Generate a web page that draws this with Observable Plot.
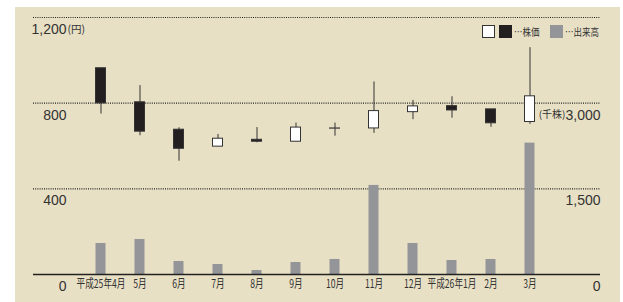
<!DOCTYPE html>
<html><head><meta charset="utf-8">
<script src="https://cdn.jsdelivr.net/npm/d3@7"></script>
<script src="https://cdn.jsdelivr.net/npm/@observablehq/plot@0.6"></script>
<style>
html,body{margin:0;padding:0;background:#fff;}
#wrap{position:relative;width:623px;height:302px;overflow:hidden;font-family:"Liberation Sans","Noto Sans CJK JP",sans-serif;}
#panel{position:absolute;left:15px;top:7px;width:605px;height:295px;background:#e8e0c5;}
#chart{position:absolute;left:0;top:0;}
.lg{position:absolute;top:25px;height:13px;}
.sq{width:13px;height:13px;box-sizing:border-box;}
.lt{position:absolute;top:24px;font-family:"Noto Sans CJK JP",sans-serif;font-size:10px;color:#333;line-height:15px;white-space:nowrap;transform:scaleX(0.85);transform-origin:left center;}
</style></head>
<body><div id="wrap"><div id="panel"></div><div id="chart"></div>
<div class="lg sq" style="left:482px;background:#fff;border:1px solid #333;"></div>
<div class="lg sq" style="left:499px;background:#231f20;"></div>
<div class="lt" style="left:514px;">…株価</div>
<div class="lg sq" style="left:550px;background:#939598;"></div>
<div class="lt" style="left:565px;">…出来高</div>
</div>
<script>
const months = ["平成25年4月","5月","6月","7月","8月","9月","10月","11月","12月","平成26年1月","2月","3月"];
const open  = [963, 804, 676, 597, 629, 620, 681, 682, 758, 786, 771, 712];
const close = [799, 667, 587, 634, 620, 686, 682, 763, 785, 766, 706, 832];
const high  = [963, 882, 685, 654, 686, 707, 707, 899, 813, 830, 771, 1059];
const low   = [749, 648, 529, 597, 615, 620, 646, 659, 723, 730, 687, 701];
const volume = [543, 613, 228, 175, 70, 210, 263, 1560, 543, 245, 263, 2300];
const priceTicks = [0, 400, 800, 1200];
const volumeTicks = [0, 1500, 3000];
const priceUnit = "(円)";
const volumeUnit = "(千株)";

const vToP = 800 / 3000;
const rows = months.map((m, i) => ({m, o: open[i], c: close[i], h: high[i], l: low[i], v: volume[i]}));
const fmt = d3.format(",");

const plot = Plot.plot({
  width: 623, height: 302,
  marginLeft: 33, marginRight: 23, marginTop: 17, marginBottom: 28,
  style: {background: "transparent", fontFamily: "'Liberation Sans','Noto Sans CJK JP',sans-serif", color: "#333", overflow: "visible"},
  x: {type: "band", domain: months, paddingInner: 0.7225, paddingOuter: 1.51, align: 0.49, axis: null},
  y: {domain: [0, 1200], axis: null},
  marks: [
    Plot.ruleY(priceTicks.filter(d => d > 0), {stroke: "#222", strokeDasharray: "1,1.2", strokeWidth: 1.1}),
    Plot.barY(rows, {x: "m", y: d => d.v * vToP, fill: "#939598", insetLeft: 0.5, insetRight: 0.5}),
    Plot.ruleY([0], {stroke: "#222", strokeWidth: 1.5}),
    Plot.ruleX(rows, {x: "m", y1: "l", y2: "h", stroke: "#333", strokeWidth: 1}),
    Plot.barY(rows, {x: "m", y1: "o", y2: "c", fill: d => d.c >= d.o ? "white" : "#231f20", stroke: "#333", strokeWidth: 1, insetLeft: 0.5, insetRight: 0.5}),
    Plot.axisX({tickSize: 0, tickPadding: 5, fontSize: 12, fontFamily: "'Noto Sans CJK JP'", label: null}),
    Plot.text(priceTicks, {y: d => d, text: d => fmt(d), frameAnchor: "left", dx: 33, dy: 12, textAnchor: "end", fontSize: 14}),
    Plot.text([1200], {y: d => d, text: () => priceUnit, frameAnchor: "left", dx: 34, dy: 12, textAnchor: "start", fontSize: 10.5, fontFamily: "'Noto Sans CJK JP'"}),
    Plot.text(volumeTicks, {y: d => d * vToP, text: d => fmt(d), frameAnchor: "right", dx: 0, dy: 12, textAnchor: "end", fontSize: 14}),
    Plot.text([3000], {y: d => d * vToP, text: () => volumeUnit, frameAnchor: "right", dx: -35, dy: 12, textAnchor: "end", fontSize: 10, fontFamily: "'Noto Sans CJK JP'"})
  ]
});
document.getElementById("chart").appendChild(plot);
d3.select(plot).selectAll('g[aria-label="x-axis tick label"] text').each(function() {
  const t = this.getAttribute("transform") || "";
  this.setAttribute("transform", t + " scale(0.72,1)");
});
</script></body></html>
